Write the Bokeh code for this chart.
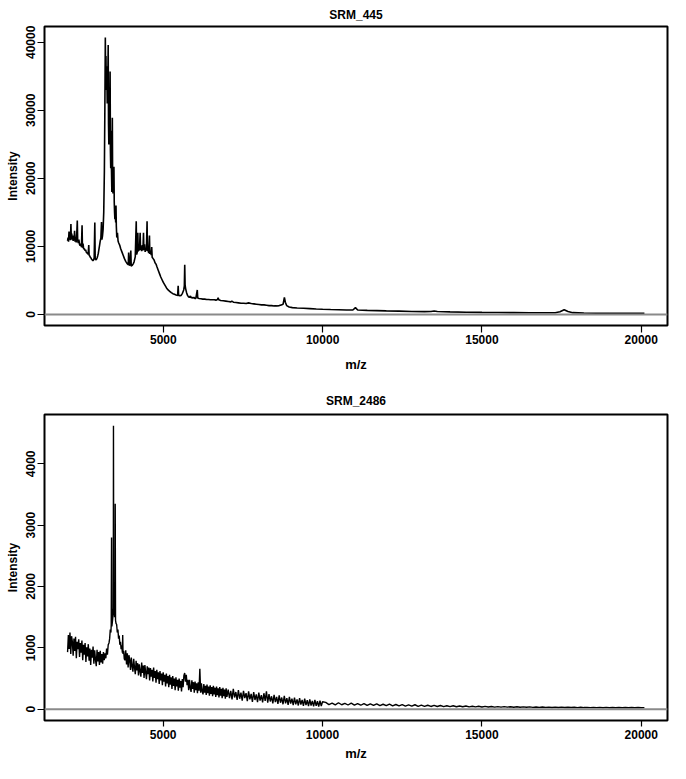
from bokeh.plotting import figure
from bokeh.layouts import column
from bokeh.models import FixedTicker, NumeralTickFormatter, Range1d, Span
from bokeh.embed import file_html
from bokeh.resources import INLINE

FONT = "Liberation Sans"

# ---------------- SRM_445 (top panel) ----------------
top_title = "SRM_445"
top_mz = [
    1995, 2010, 2025, 2040, 2055, 2070, 2085, 2100, 2112, 2125, 2140, 2155, 2170, 2185, 2200, 2215,
    2230, 2250, 2265, 2285, 2300, 2312, 2330, 2350, 2370, 2390, 2410, 2430, 2450, 2462, 2480, 2500,
    2520, 2540, 2560, 2580, 2600, 2620, 2640, 2660, 2672, 2690, 2710, 2730, 2750, 2770, 2790, 2810,
    2830, 2850, 2862, 2880, 2900, 2920, 2940, 2960, 2980, 3000, 3020, 3040, 3060, 3072, 3090, 3110,
    3130, 3150, 3165, 3180, 3190, 3200, 3210, 3225, 3240, 3255, 3270, 3280, 3290, 3300, 3315, 3330,
    3340, 3350, 3360, 3370, 3385, 3400, 3410, 3420, 3435, 3450, 3460, 3470, 3480, 3490, 3505, 3515,
    3525, 3540, 3560, 3580, 3600, 3630, 3660, 3700, 3740, 3780, 3820, 3860, 3900, 3912, 3925, 3950,
    3980, 3992, 4020, 4050, 4080, 4100, 4120, 4150, 4162, 4185, 4200, 4212, 4230, 4250, 4273, 4285,
    4300, 4320, 4340, 4360, 4378, 4390, 4410, 4430, 4450, 4470, 4490, 4502, 4520, 4540, 4565, 4577,
    4600, 4620, 4636, 4650, 4680, 4710, 4740, 4770, 4800, 4840, 4880, 4920, 4960, 5000, 5050, 5100,
    5150, 5200, 5250, 5300, 5350, 5400, 5450, 5466, 5480, 5520, 5560, 5600, 5640, 5660, 5672, 5684,
    5700, 5730, 5760, 5790, 5820, 5850, 5870, 5900, 5930, 5960, 5990, 6020, 6066, 6080, 6120, 6180,
    6240, 6300, 6360, 6420, 6480, 6540, 6600, 6650, 6700, 6720, 6740, 6800, 6880, 6960, 7040, 7120,
    7150, 7200, 7280, 7360, 7440, 7520, 7600, 7680, 7720, 7760, 7840, 7920, 8000, 8080, 8160, 8240,
    8320, 8400, 8480, 8560, 8640, 8700, 8760, 8800, 8830, 8870, 8950, 9050, 9200, 9400, 9600, 9800,
    10000, 10250, 10500, 10750, 10950, 11030, 11100, 11400, 11700, 12000, 12400, 12800, 13200, 13400,
    13500, 13600, 14000, 14500, 15000, 15500, 16000, 16500, 17000, 17300, 17450, 17580, 17700, 17850,
    18200, 18600, 19000, 19500, 20100,
]
top_int = [
    10800, 11300, 10700, 12200, 11000, 11800, 10900, 13300, 11200, 11900, 11000, 11600, 10800, 11400, 10900, 12300,
    10700, 11200, 10600, 12000, 13800, 10900, 10500, 11000, 10300, 10100, 10400, 9900, 13100, 9800, 10400, 9600,
    9700, 9400, 9500, 9200, 9000, 9100, 8800, 10200, 8700, 8600, 8400, 8300, 8100, 8000, 7900, 8000,
    8300, 13500, 8200, 8000, 8100, 8300, 8600, 9000, 9600, 10200, 10800, 11200, 13600, 11000, 11500, 12500,
    15000, 21000, 30000, 40700, 34000, 38000, 33000, 36500, 31000, 33000, 39600, 28000, 25000, 31000, 27000, 35700,
    24000, 21500, 27000, 22000, 18000, 28900, 19000, 17800, 20000, 21700, 16500, 15000, 14000, 15500, 13500, 16000,
    13000, 11300, 12000, 10800, 10500, 10200, 9700, 9200, 8700, 8200, 7800, 7500, 7300, 9100, 7300, 7200,
    9400, 7100, 7200, 7400, 7700, 8100, 8500, 13700, 8800, 9200, 12000, 9300, 9600, 9400, 12000, 9500,
    10000, 9300, 10200, 9400, 12000, 9500, 10300, 9200, 9800, 9400, 13700, 9300, 9800, 9000, 11600, 8900,
    9400, 8700, 9900, 8400, 8200, 8000, 7600, 7400, 7000, 6500, 6000, 5500, 5100, 4700, 4300, 3900,
    3600, 3400, 3200, 3050, 2950, 2850, 2800, 4200, 2800, 2750, 2800, 3100, 3600, 4200, 7300, 4300,
    3800, 3200, 2800, 2600, 2500, 2700, 2450, 2500, 2400, 2500, 2350, 2350, 3600, 2400, 2350, 2300,
    2250, 2250, 2200, 2200, 2150, 2150, 2150, 2100, 2200, 2450, 2150, 2050, 2000, 1950, 1900, 1850,
    1950, 1800, 1750, 1700, 1650, 1650, 1600, 1700, 1650, 1600, 1550, 1500, 1450, 1400, 1400, 1350,
    1300, 1300, 1250, 1250, 1300, 1400, 1500, 2500, 1800, 1300, 1100, 1000, 950, 900, 850, 800,
    760, 720, 690, 660, 650, 1000, 650, 600, 560, 520, 480, 440, 410, 430,
    500, 420, 370, 330, 300, 280, 260, 250, 240, 250, 400, 700, 420, 260,
    200, 180, 170, 160, 150,
]
top_yticks = [0, 10000, 20000, 30000, 40000]

# ---------------- SRM_2486 (bottom panel) ----------------
bot_title = "SRM_2486"
# low-mass noisy region, sampled every 25 Da from 2000 to 3300
bot_mz_a = list(range(2000, 3301, 25))
bot_int_a = [
    930, 1210, 980, 1250, 900, 1190, 1100, 870,
    1150, 950, 1180, 830, 1100, 980, 1140, 850,
    1080, 920, 1120, 800, 1050, 890, 1080, 770,
    1010, 860, 1060, 790, 990, 720, 970, 840,
    1020, 740, 960, 810, 700, 970, 780, 930,
    720, 950, 760, 900, 740, 930, 800, 910,
    830, 990, 890, 1050, 1080,
]
# main peak region
bot_mz_b = [3320, 3340, 3360, 3370, 3380, 3390, 3405, 3420, 3435, 3440, 3448, 3460, 3475, 3490, 3495, 3505,
            3520, 3540, 3560, 3580, 3600, 3620, 3640, 3660, 3680, 3700, 3720, 3730, 3740, 3760, 3780]
bot_int_b = [1150, 1300, 1250, 1380, 2800, 1350, 1420, 1500, 1650, 4620, 1750, 1600, 1500, 1550, 3350, 1450,
             1400, 1380, 1250, 1300, 1150, 1200, 1050, 1100, 980, 1040, 920, 1210, 900, 950, 820]
# decay region, sampled every 25 Da from 3800 to 7000
bot_mz_c = list(range(3800, 7001, 25))
bot_int_c = [
    800, 960, 730, 910, 680, 880, 800, 640,
    840, 700, 610, 820, 680, 570, 790, 630,
    750, 550, 730, 620, 530, 760, 590, 710,
    510, 720, 600, 490, 700, 570, 680, 470,
    670, 530, 640, 450, 680, 510, 620, 430,
    640, 490, 600, 410, 620, 470, 580, 390,
    600, 450, 560, 370, 580, 420, 540, 360,
    560, 400, 520, 330, 540, 380, 500, 310,
    520, 370, 480, 300, 500, 350, 460, 290,
    490, 360, 550, 590, 450, 560, 390, 480,
    310, 480, 350, 280, 470, 330, 440, 270,
    450, 310, 420, 260, 440, 300, 660, 270,
    420, 290, 240, 410, 270, 380, 230, 400,
    260, 370, 220, 390, 250, 360, 210, 380,
    240, 350, 200, 370, 230, 340, 190, 360,
    220, 330, 180, 350, 210, 320, 170, 340,
    200,
]
# tail, sampled every 40 Da from 7040 to 10000
bot_mz_d = list(range(7040, 10001, 40))
bot_int_d = [
    320, 180, 300, 160, 330, 190, 280, 150,
    310, 170, 270, 140, 300, 180, 260, 130,
    290, 160, 250, 120, 280, 150, 240, 115,
    270, 140, 230, 110, 260, 135, 290, 105,
    245, 125, 210, 95, 235, 115, 200, 85,
    225, 105, 190, 80, 215, 95, 180, 70,
    200, 90, 170, 65, 190, 80, 160, 60,
    180, 75, 150, 55, 170, 65, 145, 50,
    160, 60, 135, 45, 150, 55, 130, 40,
    140, 50, 120,
]
# high-mass tail, sampled every 100 Da from 10100 to 20100
bot_mz_e = list(range(10100, 20101, 100))
bot_int_e = [
    110, 75, 100, 70, 105, 72, 95, 68,
    98, 66, 90, 64, 92, 62, 86, 60,
    88, 58, 80, 56, 82, 54, 76, 52,
    74, 50, 70, 49, 72, 47, 66, 46,
    64, 44, 62, 43, 60, 42, 56, 41,
    55, 40, 52, 39, 51, 38, 48, 37,
    47, 36, 45, 35, 44, 34, 42, 34,
    41, 33, 40, 32, 39, 31, 38, 31,
    37, 30, 36, 29, 35, 29, 34, 28,
    34, 28, 33, 27, 32, 27, 31, 26,
    31, 26, 30, 25, 30, 25, 29, 24,
    29, 24, 28, 24, 28, 23, 27, 23,
    27, 23, 26, 22, 25,
]
bot_mz = bot_mz_a + bot_mz_b + bot_mz_c + bot_mz_d + bot_mz_e
bot_int = bot_int_a + bot_int_b + bot_int_c + bot_int_d + bot_int_e
bot_yticks = [0, 1000, 2000, 3000, 4000]

x_ticks = [5000, 10000, 15000, 20000]


def make_panel(title, mz, inten, yticks, height, border_top, border_bottom,
               title_standoff, tick_out, label_standoff, xlab_standoff, lw):
    xmin, xmax = min(mz), max(mz)
    xpad = 0.04 * (xmax - xmin)
    ymax = max(inten)
    ypad = 0.04 * ymax
    p = figure(width=670, height=height, output_backend="svg", toolbar_location=None,
               x_range=Range1d(xmin - xpad, xmax + xpad),
               y_range=Range1d(-ypad, ymax + ypad),
               min_border_left=44, min_border_right=3,
               min_border_top=border_top, min_border_bottom=border_bottom)
    p.title.text = title
    p.title.align = "center"
    p.title.text_font = FONT
    p.title.text_font_size = "12px"
    p.title.text_font_style = "bold"
    p.title.text_color = "black"
    p.title.standoff = title_standoff

    p.grid.visible = False
    p.outline_line_color = "black"
    p.outline_line_width = 2
    p.background_fill_color = "white"
    p.border_fill_color = "white"

    for ax in (p.xaxis[0], p.yaxis[0]):
        ax.axis_line_color = None
        ax.minor_tick_line_color = None
        ax.major_tick_in = 0
        ax.major_tick_out = tick_out
        ax.major_tick_line_color = "black"
        ax.major_tick_line_width = 1.2
        ax.major_label_text_font = FONT
        ax.major_label_text_font_size = "12px"
        ax.major_label_text_font_style = "bold"
        ax.major_label_text_color = "black"
        ax.major_label_standoff = label_standoff
        ax.axis_label_text_font = FONT
        ax.axis_label_text_font_style = "bold"
        ax.axis_label_text_color = "black"
        ax.formatter = NumeralTickFormatter(format="0")

    p.xaxis.ticker = FixedTicker(ticks=x_ticks)
    p.xaxis.axis_label = "m/z"
    p.xaxis.axis_label_text_font_size = "13px"
    p.xaxis.axis_label_standoff = xlab_standoff

    p.yaxis.ticker = FixedTicker(ticks=yticks)
    p.yaxis.major_label_orientation = "vertical"
    p.yaxis.major_tick_out = 7
    p.yaxis.major_label_standoff = 2
    p.yaxis.axis_label = "Intensity"
    p.yaxis.axis_label_text_font_size = "12px"
    p.yaxis.axis_label_standoff = 4

    p.add_layout(Span(location=0, dimension="width", line_color="#8a8a8a", line_width=2))
    p.line(mz, inten, line_color="black", line_width=lw)
    return p


p1 = make_panel(top_title, top_mz, top_int, top_yticks, 379, 24, 54, 10, 7, 2, 10, 1.6)
p2 = make_panel(bot_title, bot_mz, bot_int, bot_yticks, 384, 35, 42, 14, 6, 3, 4, 1.4)

layout = column(p1, p2, spacing=0)
open("out.html", "w").write(file_html(layout, INLINE))
